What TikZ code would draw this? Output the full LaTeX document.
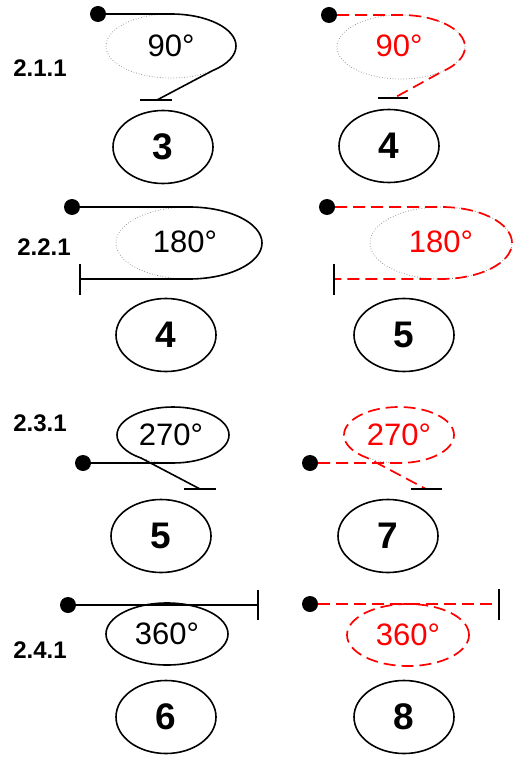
\documentclass[tikz,border=0pt]{standalone}
\usepackage{fontspec}
\setmainfont{Liberation Sans}
\usetikzlibrary{shapes.geometric}
\tikzset{
  dotn/.style={circle,fill=black,minimum size=16pt,inner sep=0pt},
  numoval/.style={ellipse,draw,line width=1.6pt,minimum width=100pt,minimum height=73pt,inner sep=0pt,font=\fontsize{37}{40}\selectfont\bfseries},
  degtxt/.style={inner sep=0pt,font=\fontsize{31}{34}\selectfont},
  degoval/.style={ellipse,draw,line width=1.6pt,inner sep=0pt,font=\fontsize{31}{34}\selectfont},
  lbl/.style={inner sep=0pt,font=\fontsize{24}{26}\selectfont\bfseries},
  guide/.style={gray,dotted,line width=0.7pt},
  solidpath/.style={line width=1.6pt},
  redpath/.style={red,line width=1.7pt,dash pattern=on 12pt off 6pt},
  barline/.style={line width=1.6pt}
}
\begin{document}
\begin{tikzpicture}[x=1pt,y=1pt]
\useasboundingbox (0,0) rectangle (512,-759);
% ---------- 2.1.1 ----------
\node[lbl] (l1) at (40,-68) {2.1.1};
% left
\draw[guide] (171,-46) ellipse [x radius=65, y radius=32];
\node[degtxt] (t1a) at (171,-46) {90°};
\node[dotn] (p1a) at (98,-14) {};
\coordinate (e1a) at (157,-100);
\draw[solidpath] (p1a) -- (171,-14) arc[start angle=90,end angle=-50,x radius=65,y radius=32] -- (e1a);
\draw[barline] (140,-100) -- (172,-100);
\node[numoval] (n1a) at (163,-147) {3};
% right
\draw[guide] (401,-47) ellipse [x radius=64, y radius=32];
\node[degtxt,text=red] (t1b) at (399,-46) {90°};
\node[dotn] (p1b) at (329,-15) {};
\coordinate (e1b) at (394,-98);
\draw[redpath] (p1b) -- (401,-15) arc[start angle=90,end angle=-50,x radius=64,y radius=32] -- (e1b);
\draw[barline] (378,-98) -- (408,-98);
\node[numoval] (n1b) at (389,-146) {4};
% ---------- 2.2.1 ----------
\node[lbl] (l2) at (44,-247) {2.2.1};
% left
\draw[guide] (189,-243) ellipse [x radius=73, y radius=36];
\node[degtxt] (t2a) at (185,-242) {180°};
\node[dotn] (p2a) at (72,-207) {};
\coordinate (e2a) at (80,-279);
\draw[solidpath] (p2a) -- (189,-207) arc[start angle=90,end angle=-90,x radius=73,y radius=36] -- (e2a);
\draw[barline] (80,-264) -- (80,-295);
\node[numoval] (n2a) at (166,-335) {4};
% right
\draw[guide] (441,-243) ellipse [x radius=71, y radius=36];
\node[degtxt,text=red] (t2b) at (441,-242) {180°};
\node[dotn] (p2b) at (327,-207) {};
\coordinate (e2b) at (334,-279);
\draw[redpath] (p2b) -- (441,-207) arc[start angle=90,end angle=-90,x radius=71,y radius=36] -- (e2b);
\draw[barline] (334,-264) -- (334,-295);
\node[numoval] (n2b) at (404,-335) {5};
% ---------- 2.3.1 ----------
\node[lbl] (l3) at (40,-423) {2.3.1};
% left
\node[degtxt] (t3a) at (171,-435) {270°};
\draw[guide] (173,-435) ++(235:56 and 28) arc[start angle=235,end angle=268,x radius=56,y radius=28];
\node[dotn] (p3a) at (83,-463) {};
\coordinate (e3a) at (200,-489);
\draw[solidpath] (p3a) -- (173,-463) arc[start angle=270,end angle=595,x radius=56,y radius=28] -- (e3a);
\draw[barline] (184,-489) -- (216,-489);
\node[numoval] (n3a) at (161,-536) {5};
% right
\node[degtxt,text=red] (t3b) at (399,-435) {270°};
\draw[guide] (399,-435) ++(235:55 and 28) arc[start angle=235,end angle=268,x radius=55,y radius=28];
\node[dotn] (p3b) at (310,-463) {};
\coordinate (e3b) at (426,-489);
\draw[redpath] (p3b) -- (399,-463) arc[start angle=270,end angle=595,x radius=55,y radius=28] -- (e3b);
\draw[barline] (411,-489) -- (442,-489);
\node[numoval] (n3b) at (388,-536) {7};
% ---------- 2.4.1 ----------
\node[lbl] (l4) at (40,-650) {2.4.1};
% left
\node[dotn] (p4a) at (68,-605) {};
\coordinate (e4a) at (258,-605);
\draw[solidpath] (p4a) -- (e4a);
\draw[barline] (258,-590) -- (258,-620);
\node[degoval,minimum width=122pt,minimum height=62pt] (t4a) at (167,-634) {360°};
\node[numoval] (n4a) at (166,-717) {6};
% right
\node[dotn] (p4b) at (310,-604) {};
\coordinate (e4b) at (499,-604);
\draw[redpath] (p4b) -- (e4b);
\draw[barline] (499,-589) -- (499,-620);
\node[degoval,red,line width=1.7pt,dash pattern=on 12pt off 6pt,text=red,minimum width=122pt,minimum height=62pt] (t4b) at (408,-635) {360°};
\node[numoval] (n4b) at (404,-717) {8};
\end{tikzpicture}
\end{document}
